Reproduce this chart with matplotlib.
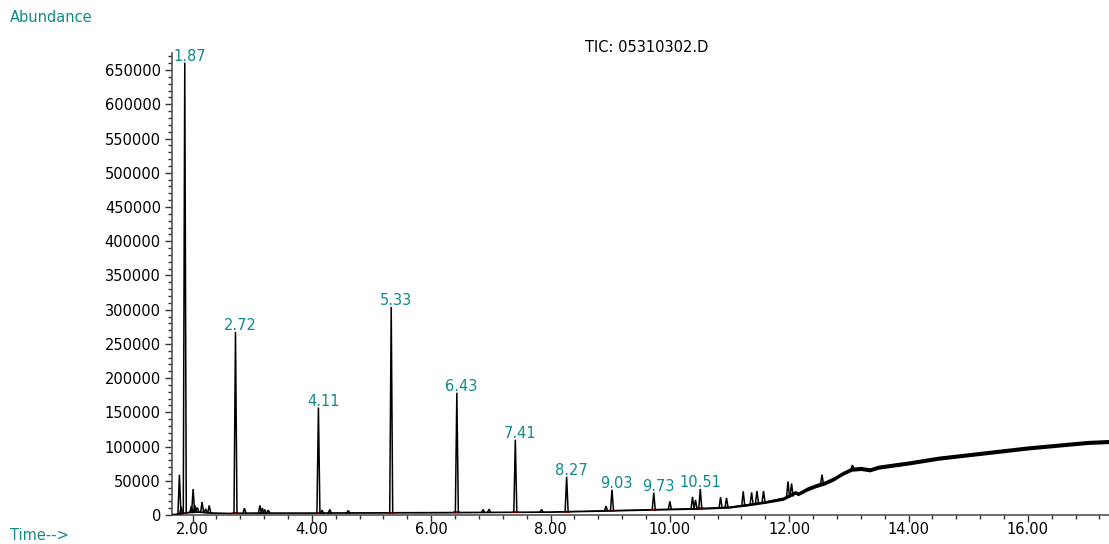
import numpy as np
import matplotlib
matplotlib.use("Agg")
import matplotlib.pyplot as plt
from matplotlib.ticker import MultipleLocator, FormatStrFormatter

# ---- baseline of the TIC trace (time in min, abundance) ----
base_times = [1.66, 1.75, 1.85, 1.95, 2.10, 2.35, 2.60, 3.00, 3.50, 4.00, 4.50,
              5.00, 5.50, 6.00, 6.50, 7.00, 7.50, 8.00, 8.50, 9.00, 9.50, 10.00,
              10.50, 11.00, 11.30, 11.60, 11.90, 12.10, 12.15, 12.30, 12.45,
              12.60, 12.75, 12.90, 13.05, 13.20, 13.35, 13.50, 14.00, 14.50,
              15.00, 15.50, 16.00, 16.50, 17.00, 17.40]
base_values = [500, 1500, 3000, 4000, 4500, 3000, 2500, 3000, 3000, 3000, 3200,
               3300, 3500, 3600, 3800, 4000, 4200, 4500, 5500, 6500, 7500, 8500,
               9500, 11500, 15000, 19000, 24000, 33000, 31000, 38000, 43000,
               47000, 53000, 61000, 67000, 68000, 66000, 70000, 76000, 83000,
               88000, 93000, 98000, 102000, 106000, 107500]
# half-width of the noise band around the baseline
noise_halfwidth = [200, 500, 800, 800, 800, 700, 600, 600, 600, 600, 600,
                   600, 600, 700, 700, 700, 700, 800, 900, 1000, 1000, 1100,
                   1200, 1500, 1800, 2000, 2500, 2800, 2800, 3000, 3000,
                   3000, 3000, 3000, 3000, 3000, 3000, 3000, 3000, 3000,
                   3000, 3000, 3000, 3000, 3000, 3000]

# ---- peaks: retention time, apex abundance, abundance at the peak foot ----
peak_times = [1.78, 1.81, 1.87, 1.98, 2.01, 2.04, 2.08, 2.16, 2.22, 2.28,
              2.72, 2.87, 3.13, 3.17, 3.21, 3.27, 4.11, 4.17, 4.30, 4.61,
              5.33, 6.43, 6.87, 6.97, 7.41, 7.85, 8.27, 8.93, 9.03, 9.73,
              10.00, 10.38, 10.43, 10.51, 10.85, 10.95, 11.23, 11.37, 11.46,
              11.57, 11.98, 12.04, 12.55, 13.06]
peak_apex = [59000, 12000, 661000, 13000, 38000, 14000, 11000, 19000, 9000, 14000,
             267500, 10000, 14000, 10000, 8000, 7000, 157000, 7000, 8000, 6500,
             304000, 178600, 8000, 8500, 110000, 8000, 56000, 13000, 37000, 32800,
             20000, 26500, 22000, 38000, 26000, 25000, 34700, 33000, 35000,
             35000, 49000, 46000, 59000, 73000]
peak_base = [1500, 2000, 3000, 4000, 4000, 4500, 4500, 4000, 3500, 3200,
             2500, 2800, 3000, 3000, 3000, 3000, 3000, 3000, 3100, 3200,
             3400, 3800, 3900, 4000, 4200, 4400, 4800, 6300, 6500, 8000,
             8500, 9200, 9300, 9500, 10500, 11000, 13500, 16000, 17500,
             18500, 26000, 28000, 45000, 67000]

# ---- labelled (integrated) peaks ----
label_texts = ["1.87", "2.72", "4.11", "5.33", "6.43", "7.41", "8.27",
               "9.03", "9.73", "10.51"]

x_ticks = [2, 4, 6, 8, 10, 12, 14, 16]
y_ticks = list(range(0, 650001, 50000))

TEAL = "#108a8a"
FONT = "DejaVu Sans"
FS = 10.5

plt.rcParams["font.family"] = [FONT]

fig = plt.figure(figsize=(11.09, 5.44), dpi=100)
ax = fig.add_axes([172 / 1109, 1 - 515 / 544, 1 - 172 / 1109, (515 - 53) / 544])

bt = np.array(base_times)
bv = np.array(base_values)
nh = np.array(noise_halfwidth)

# noise band and baseline
ax.fill_between(bt, bv - nh, bv + nh, color="black", linewidth=0, zorder=2)
ax.plot(bt, bv, color="black", linewidth=1.0, zorder=3)

# peaks
w = 0.025
for t, a, b in zip(peak_times, peak_apex, peak_base):
    ax.plot([t - w, t, t + w], [b, a, b], color="black", linewidth=1.1,
            solid_joinstyle="miter", zorder=4)

# integration marks and labels
digit_px = 0.636 * FS * 100 / 72
dot_px = 0.318 * FS * 100 / 72
for txt in label_texts:
    t = float(txt)
    i = int(np.argmin(np.abs(np.array(peak_times) - t)))
    ax.plot([t - 0.04, t + 0.04], [peak_base[i], peak_base[i]],
            color="#b00000", linewidth=1.2, zorder=3.5)
    n_int = len(txt.split(".")[0])
    dx = -(n_int * digit_px + dot_px / 2)
    ax.annotate(txt, xy=(t, peak_apex[i]), xytext=(dx, 6),
                textcoords="offset pixels", ha="left", va="center",
                color=TEAL, fontsize=FS, family=FONT, zorder=6,
                annotation_clip=False)

ax.set_xlim(1.656, 17.36)
ax.set_ylim(0, 675000)

ax.set_xticks(x_ticks)
ax.set_yticks(y_ticks)
ax.xaxis.set_major_formatter(FormatStrFormatter("%.2f"))
ax.yaxis.set_major_formatter(FormatStrFormatter("%d"))
ax.xaxis.set_minor_locator(MultipleLocator(0.4))
ax.yaxis.set_minor_locator(MultipleLocator(10000))

for s in ["top", "right"]:
    ax.spines[s].set_visible(False)
for s in ["left", "bottom"]:
    ax.spines[s].set_color("#555555")
    ax.spines[s].set_linewidth(1.2)

ax.tick_params(axis="both", which="major", length=5, width=1, color="#333333",
               labelsize=FS, labelcolor="black")
ax.tick_params(axis="both", which="minor", length=3, width=1, color="#333333")
ax.tick_params(axis="y", pad=3)
ax.tick_params(axis="x", pad=0)

fig.text(10 / 1109, 1 - 17 / 544, "Abundance", color=TEAL, fontsize=FS,
         ha="left", va="center")
fig.text(10 / 1109, 1 - 535 / 544, "Time-->", color=TEAL, fontsize=FS,
         ha="left", va="center")
fig.text(647 / 1109, 1 - 47 / 544, "TIC: 05310302.D", color="black",
         fontsize=FS, ha="center", va="center")

fig.savefig("out.png", dpi=100)
